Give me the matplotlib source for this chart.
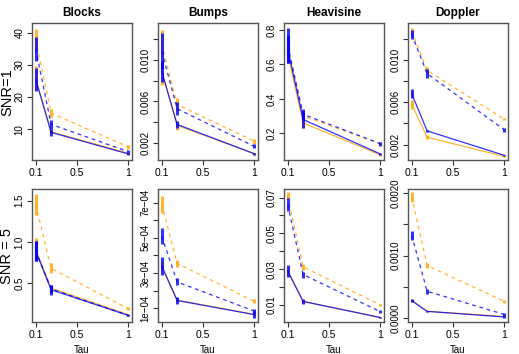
import matplotlib
matplotlib.use("Agg")
import matplotlib.pyplot as plt
import numpy as np

plt.rcParams['font.family'] = ['Liberation Sans', 'DejaVu Sans']

tau = [0.1, 0.25, 1.0]
titles = ["Blocks", "Bumps", "Heavisine", "Doppler"]
row_labels = ["SNR=1", "SNR = 5"]

# means per panel (row-major: SNR=1 Blocks..Doppler, SNR=5 Blocks..Doppler)
orange_dashed = [[38, 15, 4.5], [0.0115, 0.0057, 0.0022], [0.70, 0.30, 0.14], [0.0127, 0.0090, 0.0044],
                 [1.45, 0.68, 0.19], [6.9e-4, 3.55e-4, 1.4e-4], [0.071, 0.0313, 0.010], [0.00194, 0.00084, 0.00027]]
orange_dashed_err = [[3.2, 1.3, 0.6], [0.0013, 0.0006, 0.00025], [0.05, 0.03, 0.01], [0.0003, 0.0003, 0.0001],
                     [0.13, 0.06, 0.02], [0.5e-4, 0.22e-4, 0.12e-4], [0.002, 0.0018, 0.0008], [0.00008, 0.00004, 0.00002]]
blue_dashed = [[35, 11.5, 3.0], [0.0108, 0.0053, 0.0017], [0.71, 0.31, 0.14], [0.0124, 0.0087, 0.0034],
               [0.89, 0.43, 0.11], [5.1e-4, 2.5e-4, 0.85e-4], [0.066, 0.027, 0.0063], [0.00132, 0.00043, 0.00006]]
blue_dashed_err = [[3.6, 1.5, 0.4], [0.0017, 0.0006, 0.0002], [0.10, 0.03, 0.012], [0.0004, 0.0004, 0.0002],
                   [0.12, 0.05, 0.01], [0.45e-4, 0.2e-4, 0.1e-4], [0.0035, 0.0017, 0.0007], [0.00007, 0.00004, 0.00002]]
orange_solid = [[26, 9.2, 2.5], [0.0088, 0.0037, 0.0010], [0.66, 0.26, 0.075], [0.0058, 0.0027, 0.0009],
                [0.91, 0.44, 0.12], [3.4e-4, 1.47e-4, 0.66e-4], [0.029, 0.012, 0.003], [0.00028, 0.00011, 0.00003]]
orange_solid_err = [[3.8, 0.6, 0.3], [0.0012, 0.0004, 0.0001], [0.05, 0.03, 0.005], [0.0004, 0.0002, 0.00005],
                    [0.14, 0.03, 0.01], [0.3e-4, 0.1e-4, 0.1e-4], [0.002, 0.001, 0.0003], [0.00002, 0.00001, 0.00001]]
blue_solid = [[25.5, 9.0, 2.3], [0.0089, 0.0038, 0.0010], [0.69, 0.28, 0.08], [0.0068, 0.0033, 0.0010],
              [0.89, 0.42, 0.11], [3.4e-4, 1.45e-4, 0.65e-4], [0.029, 0.012, 0.003], [0.00028, 0.00011, 0.00002]]
blue_solid_err = [[3.5, 1.2, 0.4], [0.0010, 0.0003, 0.0001], [0.08, 0.05, 0.008], [0.0004, 0.0001, 0.00005],
                  [0.12, 0.06, 0.01], [0.5e-4, 0.2e-4, 0.2e-4], [0.0035, 0.0013, 0.0005], [0.00002, 0.00001, 0.00001]]

ylims = [(0.4, 43.1), (0.0004, 0.0135), (0.045, 0.84), (0.00056, 0.01346),
         (0.03, 1.64), (0.23e-4, 7.77e-4), (0.0005, 0.0748), (-0.00006, 0.00206)]
yticks = [[10, 20, 30, 40], [0.002, 0.004, 0.006, 0.008, 0.010, 0.012], [0.2, 0.4, 0.6, 0.8],
          [0.002, 0.004, 0.006, 0.008, 0.010, 0.012],
          [0.5, 1.0, 1.5], [1e-4, 2e-4, 3e-4, 4e-4, 5e-4, 6e-4, 7e-4],
          [0.01, 0.02, 0.03, 0.04, 0.05, 0.06, 0.07], [0.0, 0.0005, 0.0010, 0.0015, 0.0020]]
yticklabels = [["10", "20", "30", "40"], ["0.002", "", "0.006", "", "0.010", ""], ["0.2", "0.4", "0.6", "0.8"],
               ["0.002", "", "0.006", "", "0.010", ""],
               ["0.5", "1.0", "1.5"], ["1e\u221204", "", "3e\u221204", "", "5e\u221204", "", "7e\u221204"],
               ["0.01", "", "0.03", "", "0.05", "", "0.07"], ["0.0000", "", "0.0010", "", "0.0020"]]
xticks = [0.1, 0.5, 1.0]
xticklabels = ["0.1", "0.5", "1"]

W, H = 519, 354
fig = plt.figure(figsize=(W / 100, H / 100), dpi=100)

col_left = [32, 158, 284, 408]
col_w = 100
row_top = [23, 189]
row_h = [137, 133]

ORANGE = "#FFA500"
BLUE = "#0000FF"

for i in range(8):
    r, c = divmod(i, 4)
    l = col_left[c]
    t = row_top[r]
    ax = fig.add_axes([l / W, 1 - (t + row_h[r]) / H, col_w / W, row_h[r] / H])
    series = [
        (orange_solid[i], orange_solid_err[i], ORANGE, '-'),
        (orange_dashed[i], orange_dashed_err[i], ORANGE, '--'),
        (blue_solid[i], blue_solid_err[i], BLUE, '-'),
        (blue_dashed[i], blue_dashed_err[i], BLUE, '--'),
    ]
    for m, e, col, ls in series:
        m = np.array(m); e = np.array(e)
        if ls == '--':
            ax.plot(tau, m, color=col, lw=0.9, dashes=(3, 3), alpha=0.8)
        else:
            ax.plot(tau, m, color=col, lw=0.9, alpha=0.8)
        ax.vlines(tau, m - e, m + e, color=col, lw=2.2, alpha=0.8)
    ax.set_xlim(0.064, 1.036)
    ax.set_ylim(*ylims[i])
    ax.set_xticks(xticks)
    ax.set_xticklabels(xticklabels, fontsize=7.5)
    ax.set_yticks(yticks[i])
    ax.set_yticklabels(yticklabels[i], fontsize=7, rotation=90, va='center')
    ax.tick_params(direction='out', length=3.5, width=0.8, color='#333333', pad=2)
    for s in ax.spines.values():
        s.set_color('#555555')
        s.set_linewidth(1.0)
    if r == 0:
        ax.set_title(titles[c], fontsize=8.5, fontweight='bold', pad=5)
    if r == 1:
        ax.set_xlabel("Tau", fontsize=7, labelpad=4)

fig.text(7 / W, 1 - 92 / H, row_labels[0], rotation=90, fontsize=10.5, ha='center', va='center')
fig.text(7 / W, 1 - 256 / H, row_labels[1], rotation=90, fontsize=10.5, ha='center', va='center')

fig.savefig("out.png", dpi=100)
